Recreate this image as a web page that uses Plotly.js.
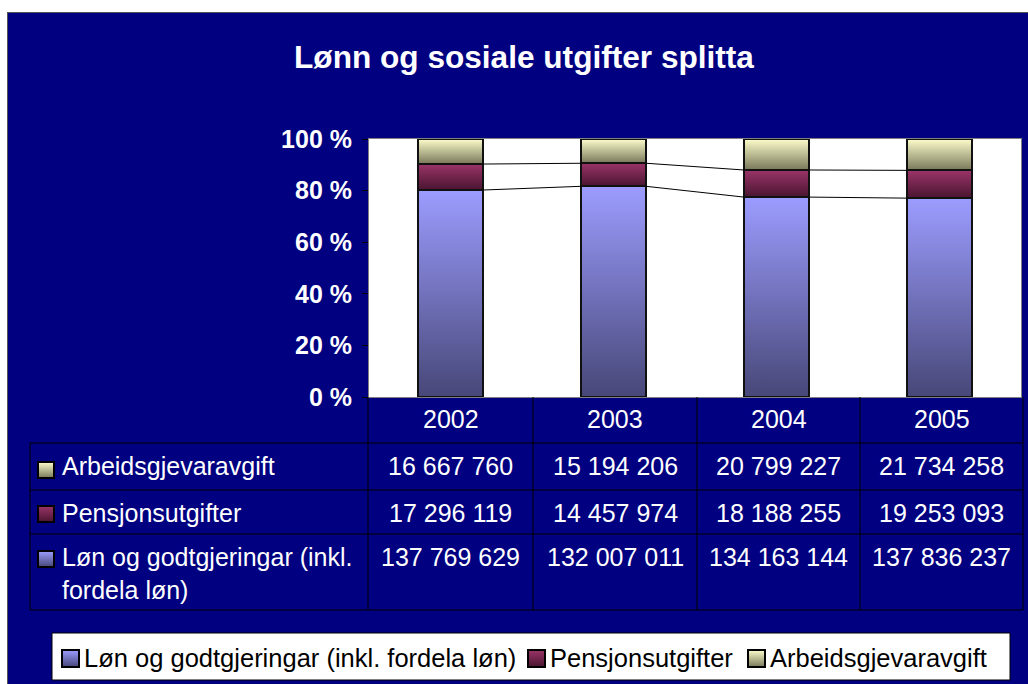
<!DOCTYPE html>
<html>
<head>
<meta charset="utf-8">
<script src="https://cdn.plot.ly/plotly-3.0.1.min.js"></script>
<style>
html,body{margin:0;padding:0;background:#fff;}
#chart{width:1028px;height:684px;}
</style>
</head>
<body>
<div id="chart"></div>
<script>
// ---------- data ----------
const years = ['2002', '2003', '2004', '2005'];
const lonValues = [137769629, 132007011, 134163144, 137836237];
const pensjonValues = [17296119, 14457974, 18188255, 19253093];
const arbeidValues = [16667760, 15194206, 20799227, 21734258];
const seriesNames = ['Løn og godtgjeringar (inkl. fordela løn)', 'Pensjonsutgifter', 'Arbeidsgjevaravgift'];
const tableRowLabels = ['Arbeidsgjevaravgift', 'Pensjonsutgifter', 'Løn og godtgjeringar (inkl.<br>fordela løn)'];
const yTickVals = [0, 20, 40, 60, 80, 100];
const yTickText = ['0 %', '20 %', '40 %', '60 %', '80 %', '100 %'];
const chartTitle = 'Lønn og sosiale utgifter splitta';

// ---------- styling ----------
const W = 1028, H = 684;
const px = x => x / W;
const py = y => 1 - y / H;
const FONT = 'Liberation Sans, Arial, sans-serif';
const NAVY = '#000080';
const seriesValues = [lonValues, pensjonValues, arbeidValues];
const midColors = ['#7b7bd0', '#7a2a55', '#c8c8a0'];
const gradStops = [
  ['#9c9cff', '#474778'],
  ['#9a3468', '#4a1530'],
  ['#fdfdcc', '#78785a']
];
const barWidth = 0.4;

// ---------- traces ----------
const xPos = years.map((_, i) => i);
const data = seriesValues.map((vals, s) => ({
  type: 'bar',
  x: xPos,
  y: vals,
  name: seriesNames[s],
  width: barWidth,
  marker: { color: midColors[s], line: { color: '#111', width: 1.8 } },
  hoverinfo: 'skip',
  showlegend: false
}));

// ---------- series lines (from data) ----------
const totals = years.map((_, i) => lonValues[i] + pensjonValues[i] + arbeidValues[i]);
const cum1 = years.map((_, i) => 100 * lonValues[i] / totals[i]);
const cum2 = years.map((_, i) => 100 * (lonValues[i] + pensjonValues[i]) / totals[i]);
const shapes = [];
[cum1, cum2].forEach(cum => {
  for (let i = 0; i < years.length - 1; i++) {
    shapes.push({
      type: 'line', xref: 'x', yref: 'y',
      x0: i + barWidth / 2, x1: i + 1 - barWidth / 2,
      y0: cum[i], y1: cum[i + 1],
      line: { color: '#000', width: 1 }, layer: 'above'
    });
  }
});

// ---------- white outer border strips ----------
shapes.push({ type: 'rect', xref: 'paper', yref: 'paper', x0: 0, x1: 1, y0: py(12), y1: 1, fillcolor: '#fff', line: { width: 0 } });
shapes.push({ type: 'rect', xref: 'paper', yref: 'paper', x0: 0, x1: px(7), y0: 0, y1: 1, fillcolor: '#fff', line: { width: 0 } });
shapes.push({ type: 'line', xref: 'paper', yref: 'paper', x0: px(7), x1: 1, y0: py(12.5), y1: py(12.5), line: { color: '#555', width: 1 } });
shapes.push({ type: 'line', xref: 'paper', yref: 'paper', x0: px(7.5), x1: px(7.5), y0: 0, y1: py(12), line: { color: '#555', width: 1 } });

// ---------- data table grid ----------
const colEdges = [368, 533, 697, 860, 1023];
const rowLines = [443, 490, 534, 610];
const tableLeft = 30, tableTop = 397, tableBottom = 610;
rowLines.forEach(y => shapes.push({ type: 'line', xref: 'paper', yref: 'paper', x0: px(tableLeft), x1: px(1023), y0: py(y), y1: py(y), line: { color: '#000', width: 1 } }));
shapes.push({ type: 'line', xref: 'paper', yref: 'paper', x0: px(tableLeft), x1: px(tableLeft), y0: py(443), y1: py(tableBottom), line: { color: '#000', width: 1 } });
colEdges.forEach(x => shapes.push({ type: 'line', xref: 'paper', yref: 'paper', x0: px(x), x1: px(x), y0: py(tableTop), y1: py(tableBottom), line: { color: '#000', width: 1 } }));

const keyShapeIdx = [];
// key squares in table rows (row order: arbeid, pensjon, lon)
const rowSeries = [2, 1, 0];
const keyTops = [462, 506, 551];
rowSeries.forEach((s, r) => {
  keyShapeIdx.push({ idx: shapes.length, s });
  shapes.push({ type: 'rect', xref: 'paper', yref: 'paper', x0: px(38), x1: px(54), y0: py(keyTops[r] + 16), y1: py(keyTops[r]), fillcolor: midColors[s], line: { color: '#000', width: 2 } });
});

// ---------- legend box (bottom) ----------
const legendBox = { x0: 52, x1: 1010, y0: 633, y1: 680 };
const legendKeyX = [62, 528, 748];
const legendKeySize = 17;
const legendKeyTop = 650;
const legendCenterY = 658;
shapes.push({ type: 'rect', xref: 'paper', yref: 'paper', x0: px(legendBox.x0), x1: px(legendBox.x1), y0: py(legendBox.y1), y1: py(legendBox.y0), fillcolor: '#fff', line: { color: '#000', width: 1 } });
legendKeyX.forEach((kx, s) => {
  keyShapeIdx.push({ idx: shapes.length, s });
  shapes.push({ type: 'rect', xref: 'paper', yref: 'paper', x0: px(kx), x1: px(kx + legendKeySize), y0: py(legendKeyTop + legendKeySize), y1: py(legendKeyTop), fillcolor: midColors[s], line: { color: '#000', width: 2 } });
});

// ---------- annotations ----------
const fmt = v => String(v).replace(/\B(?=(\d{3})+(?!\d))/g, ' ');
const colCenters = colEdges.slice(0, -1).map((x, i) => (x + colEdges[i + 1]) / 2);
const annotations = [];
const cellFont = { family: FONT, size: 25, color: '#fff' };
years.forEach((yr, i) => annotations.push({ xref: 'paper', yref: 'paper', x: px(colCenters[i]), y: py(418.5), text: yr, showarrow: false, xanchor: 'center', yanchor: 'middle', font: cellFont }));
const rowCenters = [466.5, 512.5];
rowSeries.forEach((s, r) => {
  const vals = seriesValues[s];
  vals.forEach((v, i) => {
    if (r < 2) {
      annotations.push({ xref: 'paper', yref: 'paper', x: px(colCenters[i]), y: py(rowCenters[r]), text: fmt(v), showarrow: false, xanchor: 'center', yanchor: 'middle', font: cellFont });
    } else {
      annotations.push({ xref: 'paper', yref: 'paper', x: px(colCenters[i]), y: py(541), text: fmt(v), showarrow: false, xanchor: 'center', yanchor: 'top', font: cellFont });
    }
  });
  if (r < 2) {
    annotations.push({ xref: 'paper', yref: 'paper', x: px(60), y: py(rowCenters[r]), text: tableRowLabels[r], showarrow: false, xanchor: 'left', yanchor: 'middle', align: 'left', font: cellFont });
  } else {
    annotations.push({ xref: 'paper', yref: 'paper', x: px(60), y: py(541), text: tableRowLabels[r], showarrow: false, xanchor: 'left', yanchor: 'top', align: 'left', font: cellFont });
  }
});
legendKeyX.forEach((kx, s) => {
  annotations.push({ xref: 'paper', yref: 'paper', x: px(kx + legendKeySize + 3), y: py(legendCenterY), text: seriesNames[s], showarrow: false, xanchor: 'left', yanchor: 'middle', font: { family: FONT, size: 25.5, color: '#000' } });
});

// ---------- layout ----------
const layout = {
  width: W, height: H,
  margin: { l: 0, r: 0, t: 0, b: 0 },
  paper_bgcolor: NAVY,
  plot_bgcolor: '#fff',
  font: { family: FONT, color: '#fff' },
  title: { text: chartTitle, x: px(524), xanchor: 'center', y: py(57), yanchor: 'middle', font: { family: FONT, size: 31.6, color: '#fff', weight: 'bold' } },
  barmode: 'stack',
  barnorm: 'percent',
  xaxis: { domain: [px(369), px(1021)], range: [-0.5, 3.5], showticklabels: false, showgrid: false, zeroline: false, showline: true, mirror: true, linecolor: '#808080', linewidth: 1, ticks: '', fixedrange: true },
  yaxis: { domain: [py(397), py(139)], range: [0, 100], tickvals: yTickVals, ticktext: yTickText, ticks: 'outside', ticklen: 6, tickcolor: '#000', tickwidth: 1, ticklabelstandoff: 5, showgrid: false, zeroline: false, showline: true, mirror: true, linecolor: '#808080', linewidth: 1, tickfont: { family: FONT, size: 25, color: '#fff', weight: 'bold' }, fixedrange: true },
  showlegend: false,
  shapes: shapes,
  annotations: annotations
};

const gd = document.getElementById('chart');
Plotly.newPlot(gd, data, layout, { staticPlot: true, displayModeBar: false }).then(applyGradients);

function applyGradients() {
  const ns = 'http://www.w3.org/2000/svg';
  const svg = gd.querySelector('svg.main-svg');
  let defs = svg.querySelector('defs');
  if (!defs) { defs = document.createElementNS(ns, 'defs'); svg.insertBefore(defs, svg.firstChild); }
  gradStops.forEach((st, i) => {
    const lg = document.createElementNS(ns, 'linearGradient');
    lg.setAttribute('id', 'barGrad' + i);
    lg.setAttribute('x1', '0'); lg.setAttribute('y1', '0');
    lg.setAttribute('x2', '0'); lg.setAttribute('y2', '1');
    [[0, st[0]], [1, st[1]]].forEach(([o, c]) => {
      const stop = document.createElementNS(ns, 'stop');
      stop.setAttribute('offset', o);
      stop.setAttribute('stop-color', c);
      lg.appendChild(stop);
    });
    defs.appendChild(lg);
  });
  gd.querySelectorAll('.barlayer .trace').forEach((t, i) => {
    t.querySelectorAll('path').forEach(p => { p.style.fill = 'url(#barGrad' + i + ')'; });
  });
  keyShapeIdx.forEach(k => {
    gd.querySelectorAll('.shapelayer path[data-index="' + k.idx + '"]').forEach(p => { p.style.fill = 'url(#barGrad' + k.s + ')'; p.style.fillOpacity = 1; });
  });
}
</script>
</body>
</html>
